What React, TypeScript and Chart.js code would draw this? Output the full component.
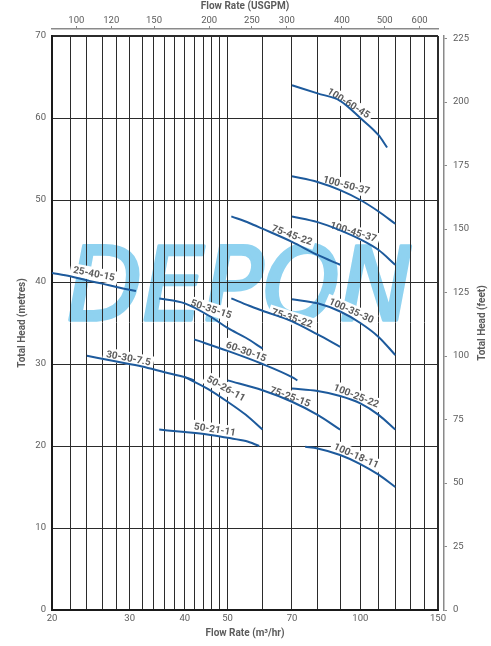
import { useEffect, useRef } from "react";
import Chart from "chart.js/auto";

// pump curves: [flow m3/hr, head m]
const curve_25_40_15 = [[20, 41.1], [22, 40.7], [24, 40.2], [26, 39.8], [28, 39.4], [31, 38.9]];
const curve_30_30_7_5 = [[24, 31.0], [28, 30.3], [32, 29.7], [36, 29.0], [40, 28.4], [42, 28.0]];
const curve_50_21_11 = [[35, 22.0], [40, 21.7], [45, 21.4], [50, 21.0], [55, 20.6], [59, 20.0]];
const curve_50_26_11 = [[40, 28.4], [45, 27.0], [50, 25.4], [55, 23.8], [60, 22.0]];
const curve_50_35_15 = [[35, 38.0], [40, 37.4], [46, 35.7], [50, 34.4], [55, 33.2], [60, 31.9]];
const curve_60_30_15 = [[42, 33.0], [50, 31.6], [60, 30.0], [70, 28.4], [72, 28.0]];
const curve_75_45_22 = [[51, 48.0], [56, 47.2], [60, 46.5], [70, 44.9], [80, 43.3], [90, 42.1]];
const curve_75_35_22 = [[51, 38.0], [56, 37.1], [60, 36.5], [70, 35.2], [80, 33.6], [90, 32.1]];
const curve_75_25_15 = [[50, 28.0], [60, 26.8], [70, 25.4], [80, 23.8], [90, 22.0]];
const curve_100_60_45 = [[70, 64.0], [80, 63.0], [90, 62.1], [100, 60.0], [110, 57.9], [115, 56.4]];
const curve_100_50_37 = [[70, 52.9], [80, 52.2], [90, 51.2], [100, 50.0], [110, 48.6], [120, 47.1]];
const curve_100_45_37 = [[70, 48.0], [80, 47.3], [90, 46.3], [100, 45.2], [110, 43.9], [120, 42.1]];
const curve_100_35_30 = [[70, 37.9], [80, 37.4], [90, 36.4], [100, 35.0], [110, 33.3], [120, 31.1]];
const curve_100_25_22 = [[70, 27.0], [80, 26.7], [90, 26.1], [100, 25.2], [110, 23.8], [120, 22.0]];
const curve_100_18_11 = [[75, 19.9], [80, 19.7], [90, 18.9], [100, 17.8], [110, 16.5], [120, 15.0]];

const curves = [
	curve_25_40_15, curve_30_30_7_5, curve_50_21_11, curve_50_26_11, curve_50_35_15,
	curve_60_30_15, curve_75_45_22, curve_75_35_22, curve_75_25_15, curve_100_60_45,
	curve_100_50_37, curve_100_45_37, curve_100_35_30, curve_100_25_22, curve_100_18_11
];
const curveNames = [
	"25-40-15", "30-30-7.5", "50-21-11", "50-26-11", "50-35-15",
	"60-30-15", "75-45-22", "75-35-22", "75-25-15", "100-60-45",
	"100-50-37", "100-45-37", "100-35-30", "100-25-22", "100-18-11"
];
// where each curve name sits (flow, head) and its slant in degrees
const labelFlow = [24.9, 29.8, 46.8, 49.6, 45.9, 55.1, 70.0, 70.0, 69.3, 94.0, 93.0, 96.4, 95.4, 97.9, 97.9];
const labelHead = [41.0, 30.7, 22.0, 27.0, 36.7, 31.5, 45.7, 35.6, 26.0, 61.8, 51.8, 46.1, 36.5, 26.1, 18.8];
const labelAngle = [11, 11, 9, 29, 18, 20, 20, 18, 20, 32, 15, 17, 24, 22, 24];

const flowGrid = [20, 22, 24, 26, 28, 30, 32, 34, 36, 38, 40, 42, 44, 46, 48, 50, 60, 70, 80, 90, 100, 110, 120, 130, 140, 150];
const flowLabels = [20, 30, 40, 50, 70, 100, 150];
const headTicks = [0, 10, 20, 30, 40, 50, 60, 70];
const gpmTicks = [100, 120, 150, 200, 250, 300, 400, 500, 600];
const feetTicks = [0, 25, 50, 75, 100, 125, 150, 175, 200, 225];
const feetMax = 226;
const GPM_PER_M3H = 4.40287;
const watermarkAt = [53.4, 39.9];

const GREY = "#5c5c5c";
const BLUE = "#1d5a9c";
const FONT = "Roboto";

const setTicks = (values: number[]) => (scale: any) => {
	scale.ticks = values.map((v) => ({ value: v }));
};

const watermark = {
	id: "watermark",
	beforeDraw(chart: any) {
		const { ctx, scales } = chart;
		const px = scales.x.getPixelForValue(watermarkAt[0]);
		const py = scales.y.getPixelForValue(watermarkAt[1]);
		ctx.save();
		ctx.font = 'italic 102px "DejaVu Sans"';
		const w = ctx.measureText("DEPON").width;
		ctx.translate(px, py);
		ctx.scale(346 / w, 1);
		ctx.fillStyle = "#8fd2f0";
		ctx.strokeStyle = "#8fd2f0";
		ctx.lineWidth = 3.5;
		ctx.lineJoin = "round";
		ctx.textAlign = "center";
		ctx.textBaseline = "alphabetic";
		ctx.fillText("DEPON", 0, 37);
		ctx.strokeText("DEPON", 0, 37);
		ctx.restore();
	}
};

// pull top / right axes a few pixels away from the plot frame
const axisGap = {
	id: "axisGap",
	afterLayout(chart: any) {
		chart.scales.x2.bottom -= 7;
		chart.scales.y2.left += 6;
	}
};

const curveLabels = {
	id: "curveLabels",
	beforeDatasetsDraw(chart: any) {
		const { ctx, scales } = chart;
		ctx.save();
		ctx.font = `bold 10px ${FONT}`;
		ctx.textAlign = "center";
		ctx.textBaseline = "middle";
		curveNames.forEach((name, i) => {
			const px = scales.x.getPixelForValue(labelFlow[i]);
			const py = scales.y.getPixelForValue(labelHead[i]);
			const w = ctx.measureText(name).width;
			ctx.save();
			ctx.translate(px, py);
			ctx.rotate((labelAngle[i] * Math.PI) / 180);
			ctx.fillStyle = "#ffffff";
			ctx.fillRect(-w / 2 - 3, -6.5, w + 6, 13);
			ctx.fillStyle = GREY;
			ctx.fillText(name, 0, 0.5);
			ctx.restore();
		});
		ctx.restore();
	}
};

const rightTitle = {
	id: "rightTitle",
	afterDraw(chart: any) {
		const { ctx, chartArea, scales } = chart;
		ctx.save();
		ctx.translate(scales.y2.right - 9, (chartArea.top + chartArea.bottom) / 2);
		ctx.rotate(-Math.PI / 2);
		ctx.font = `bold 10px ${FONT}`;
		ctx.fillStyle = GREY;
		ctx.textAlign = "center";
		ctx.textBaseline = "middle";
		ctx.fillText("Total Head (feet)", 0, 0);
		ctx.restore();
	}
};

export default function App() {
	const canvasRef = useRef<HTMLCanvasElement>(null);

	useEffect(() => {
		document.body.style.margin = "0";
		if (!canvasRef.current) return;

		const tickFont = { family: FONT, size: 9.5 };
		const titleFont = { family: FONT, size: 10, weight: "bold" as const };

		const chart = new Chart(canvasRef.current, {
			type: "line",
			data: {
				datasets: curves.map((pts, i) => ({
					label: curveNames[i],
					data: pts.map(([x, y]) => ({ x, y })),
					borderColor: BLUE,
					borderWidth: 2,
					pointRadius: 0,
					fill: false,
					cubicInterpolationMode: "monotone" as const,
					xAxisID: "x",
					yAxisID: "y"
				}))
			},
			options: {
				animation: false,
				responsive: true,
				maintainAspectRatio: false,
				events: [],
				layout: { padding: 0 },
				plugins: {
					legend: { display: false },
					tooltip: { enabled: false }
				},
				scales: {
					x: {
						type: "logarithmic",
						position: "bottom",
						min: 20,
						max: 150,
						afterBuildTicks: setTicks(flowGrid),
						afterFit: (s: any) => { s.height = 36; },
						grid: {
							color: "#2b2b2b",
							lineWidth: (c: any) => (c.tick && c.tick.value === 150 ? 2 : 1),
							drawTicks: false
						},
						border: { display: true, color: "#1a1a1a", width: 2 },
						ticks: {
							autoSkip: false,
							maxRotation: 0,
							padding: 3,
							color: GREY,
							font: tickFont,
							callback: (v: any) => (flowLabels.includes(Number(v)) ? String(v) : "")
						},
						title: {
							display: true,
							text: "Flow Rate (m³/hr)",
							color: GREY,
							font: titleFont,
							padding: { top: 0, bottom: 7 }
						}
					},
					x2: {
						type: "logarithmic",
						position: "top",
						min: 20 * GPM_PER_M3H,
						max: 150 * GPM_PER_M3H,
						afterBuildTicks: setTicks(gpmTicks),
						afterFit: (s: any) => { s.height = 36; },
						grid: { drawOnChartArea: false, drawTicks: true, tickLength: 3, color: "#8a8a8a" },
						border: { display: true, color: "#8a8a8a", width: 1.5 },
						ticks: {
							autoSkip: false,
							maxRotation: 0,
							padding: 0,
							color: GREY,
							font: tickFont,
							callback: (v: any) => String(v)
						},
						title: {
							display: true,
							text: "Flow Rate (USGPM)",
							color: GREY,
							font: titleFont,
							padding: { top: 0, bottom: 0 }
						}
					},
					y: {
						type: "linear",
						position: "left",
						min: 0,
						max: 70,
						afterBuildTicks: setTicks(headTicks),
						afterFit: (s: any) => { s.width = 52; },
						grid: {
							color: "#2b2b2b",
							lineWidth: (c: any) => (c.tick && c.tick.value === 70 ? 2 : 1),
							drawTicks: false
						},
						border: { display: true, color: "#1a1a1a", width: 2 },
						ticks: { padding: 6, color: GREY, font: tickFont },
						title: {
							display: true,
							text: "Total Head (metres)",
							color: GREY,
							font: titleFont,
							padding: { top: 16, bottom: 0 }
						}
					},
					y2: {
						type: "linear",
						position: "right",
						min: 0,
						max: feetMax,
						afterBuildTicks: setTicks(feetTicks),
						afterFit: (s: any) => { s.width = 53; },
						grid: { drawOnChartArea: false, drawTicks: true, tickLength: 3, color: "#8a8a8a" },
						border: { display: true, color: "#8a8a8a", width: 1.5 },
						ticks: { padding: 6, color: GREY, font: tickFont },
						title: { display: false }
					}
				}
			},
			plugins: [watermark, axisGap, curveLabels, rightTitle]
		});

		return () => {
			chart.destroy();
		};
	}, []);

	return (
		<div style={{ position: "relative", width: 491, height: 646 }}>
			<canvas ref={canvasRef} style={{ width: "100%", height: "100%" }} />
		</div>
	);
}
